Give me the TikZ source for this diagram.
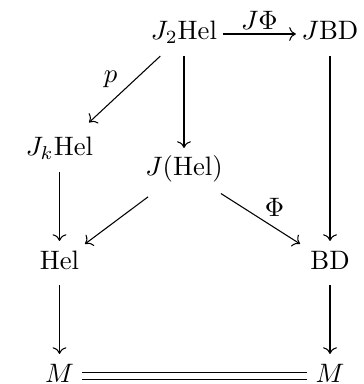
\documentclass[tikz,border=0pt]{standalone}
\usetikzlibrary{arrows.meta}
\begin{document}
\begin{tikzpicture}[x=0.375pt,y=-0.375pt,
  obj/.style={anchor=base,inner xsep=2pt,inner ysep=3.33pt,text height=7pt,text depth=2.5pt},
  map/.style={->,line width=0.4pt},
  lbl/.style={inner sep=1.5pt}]
\useasboundingbox (0,0) rectangle (363,384);
% objects
\node[obj] (j2)  at (184,40)   {$J_2\mathrm{Hel}$};
\node[obj] (jbd) at (330,40)   {$J\mathrm{BD}$};
\node[obj] (jk)  at (59.5,156) {$J_k\mathrm{Hel}$};
\node[obj] (jh)  at (184,176)  {$J(\mathrm{Hel})$};
\node[obj] (hel) at (59.5,269) {$\mathrm{Hel}$};
\node[obj] (bd)  at (330,269)  {$\mathrm{BD}$};
\node[obj] (m1)  at (59.5,382) {$M$};
\node[obj] (m2)  at (330,382)  {$M$};
% maps
\draw[map] (j2) -- node[lbl,above] {$J\Phi$} (jbd);
\draw[map,shorten >=3pt] (j2) -- node[lbl,above left] {$p$} (jk);
\draw[map] (j2) -- (jh);
\draw[map] (jbd) -- (bd);
\draw[map] (jk) -- (hel);
\draw[map,shorten <=3pt] (jh) -- (hel);
\draw[map,shorten <=1pt,shorten >=2pt] (jh) -- node[inner sep=1pt,above right] {$\Phi$} (bd);
\draw[map] (hel) -- (m1);
\draw[map] (bd) -- (m2);
\draw[double,double distance=2pt,shorten <=1pt,shorten >=1pt] (m1) -- (m2);
\end{tikzpicture}
\end{document}
